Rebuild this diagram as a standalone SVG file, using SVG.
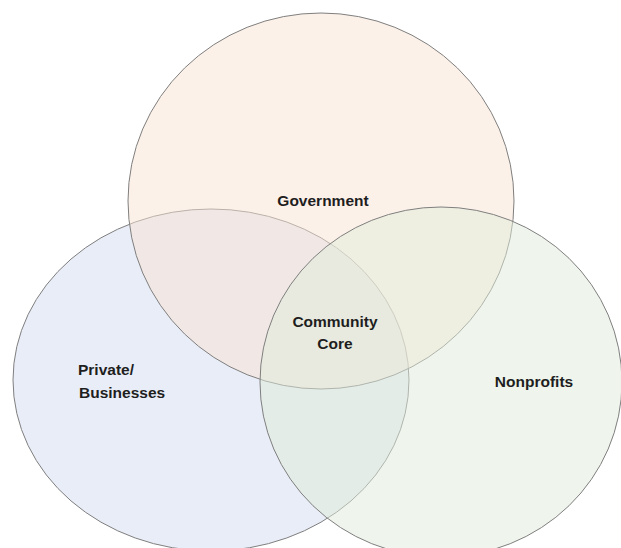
<svg xmlns="http://www.w3.org/2000/svg" width="621" height="548" viewBox="0 0 621 548">
  <style>
    .set { stroke: #7f7f7f; stroke-width: 1; fill-opacity: 0.5; }
    .label { font-family: "Liberation Sans", Arial, sans-serif; font-weight: bold; font-size: 15.5px; fill: #1e1e1e; }
    .mid { text-anchor: middle; }
  </style>
  <rect width="621" height="548" fill="#ffffff"/>

  <!-- Private / Businesses (bottom layer) -->
  <g id="private">
    <ellipse class="set" cx="211" cy="380" rx="198" ry="171" fill="#d3dbef"/>
  </g>

  <!-- Government -->
  <g id="government">
    <ellipse class="set" cx="321" cy="201" rx="193" ry="188" fill="#f9e3d3"/>
  </g>

  <!-- Nonprofits (top layer) -->
  <g id="nonprofits">
    <ellipse class="set" cx="441" cy="382" rx="181" ry="175" fill="#dfebd9"/>
  </g>

  <!-- Labels -->
  <g id="labels">
    <text class="label mid" x="323" y="206">Government</text>
    <text class="label" x="78" y="375">Private/</text>
    <text class="label" x="79" y="398">Businesses</text>
    <text class="label mid" x="534" y="387">Nonprofits</text>
  </g>
  <g id="community-core">
    <text class="label mid" x="335" y="327">Community</text>
    <text class="label mid" x="335" y="349">Core</text>
  </g>
</svg>
